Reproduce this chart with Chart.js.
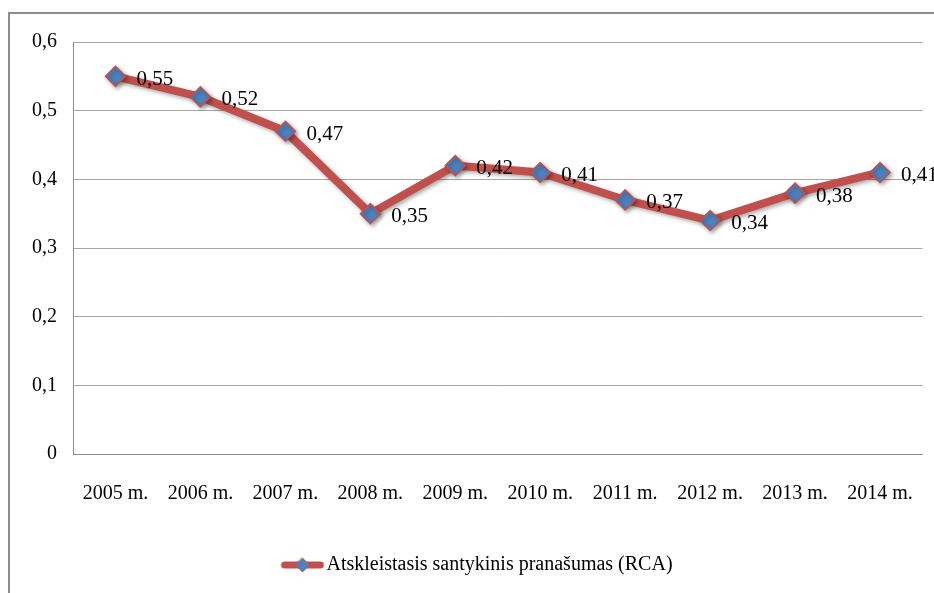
<!DOCTYPE html>
<html>
<head>
<meta charset="utf-8">
<script src="https://cdn.jsdelivr.net/npm/chart.js@4.4.1/dist/chart.umd.min.js"></script>
<style>
  html, body { margin: 0; padding: 0; background: #fff; }
  #wrap { width: 934px; height: 593px; position: relative; }
</style>
</head>
<body>
<div id="wrap"><canvas id="rcaChart" width="934" height="593"></canvas></div>
<script>
// duomenys
const years = ["2005 m.", "2006 m.", "2007 m.", "2008 m.", "2009 m.", "2010 m.", "2011 m.", "2012 m.", "2013 m.", "2014 m."];
const rcaValues = [0.55, 0.52, 0.47, 0.35, 0.42, 0.41, 0.37, 0.34, 0.38, 0.41];
const seriesName = "Atskleistasis santykinis pranašumas (RCA)";

const lineColor = "#c0504d";
const markerColor = "#4f81bd";
const fontFamily = "'Liberation Serif', 'Times New Roman', serif";

const fmt = (v) => (v === 0 ? "0" : v.toFixed(2).replace(".", ","));

// legendos simbolis: linija su rombu (kairė dalis tuščia - paslinkti į dešinę)
const legendIcon = document.createElement("canvas");
legendIcon.width = 80;
legendIcon.height = 20;
(function () {
    const c = legendIcon.getContext("2d");
    c.strokeStyle = lineColor;
    c.lineWidth = 7;
    c.lineCap = "round";
    c.beginPath();
    c.moveTo(40, 10);
    c.lineTo(76, 10);
    c.stroke();
    c.beginPath();
    c.moveTo(58, 3);
    c.lineTo(65, 10);
    c.lineTo(58, 17);
    c.lineTo(51, 10);
    c.closePath();
    c.fillStyle = markerColor;
    c.fill();
    c.lineWidth = 1;
    c.strokeStyle = lineColor;
    c.stroke();
})();

// rėmelis aplink diagramą
const framePlugin = {
    id: "frame",
    beforeDraw(chart) {
        const ctx = chart.ctx;
        ctx.save();
        ctx.fillStyle = "#fff";
        ctx.fillRect(0, 0, chart.width, chart.height);
        ctx.strokeStyle = "#8c8c8c";
        ctx.lineWidth = 2;
        ctx.beginPath();
        ctx.moveTo(9, chart.height);
        ctx.lineTo(9, 13);
        ctx.lineTo(chart.width, 13);
        ctx.stroke();
        ctx.restore();
    }
};

// šešėlis linijai
const shadowPlugin = {
    id: "shadow",
    beforeDatasetsDraw(chart) {
        const ctx = chart.ctx;
        ctx.save();
        ctx.shadowColor = "rgba(0,0,0,0.35)";
        ctx.shadowBlur = 4;
        ctx.shadowOffsetX = 2;
        ctx.shadowOffsetY = 2;
    },
    afterDatasetsDraw(chart) {
        chart.ctx.restore();
    }
};

// reikšmių žymos dešinėje nuo taškų
const valueLabels = {
    id: "valueLabels",
    afterDatasetsDraw(chart) {
        const ctx = chart.ctx;
        const meta = chart.getDatasetMeta(0);
        ctx.save();
        ctx.font = "21px " + fontFamily;
        ctx.fillStyle = "#000";
        ctx.textAlign = "left";
        ctx.textBaseline = "middle";
        meta.data.forEach((pt, i) => {
            ctx.fillText(fmt(rcaValues[i]), pt.x + 21, pt.y + 3);
        });
        ctx.restore();
    }
};

new Chart(document.getElementById("rcaChart").getContext("2d"), {
    type: "line",
    data: {
        labels: years,
        datasets: [{
            label: seriesName,
            data: rcaValues,
            borderColor: lineColor,
            borderWidth: 8,
            tension: 0,
            pointStyle: "rectRot",
            pointRadius: 10,
            pointBackgroundColor: markerColor,
            pointBorderColor: lineColor,
            pointBorderWidth: 1.5
        }]
    },
    options: {
        responsive: false,
        animation: false,
        layout: { padding: { top: 42, right: 9, bottom: 8, left: 0 } },
        plugins: {
            tooltip: { enabled: false },
            legend: {
                position: "bottom",
                labels: {
                    usePointStyle: true,
                    pointStyleWidth: 64,
                    color: "#000",
                    font: { family: fontFamily, size: 20 },
                    padding: 10,
                    generateLabels(chart) {
                        return [{
                            text: seriesName,
                            pointStyle: legendIcon,
                            fillStyle: markerColor,
                            strokeStyle: lineColor,
                            lineWidth: 0,
                            datasetIndex: 0,
                            fontColor: "#000"
                        }];
                    }
                }
            }
        },
        scales: {
            x: {
                offset: true,
                grid: { display: false, drawTicks: false },
                border: { display: true, color: "#8c8c8c", width: 1 },
                ticks: {
                    color: "#000",
                    padding: 28,
                    maxRotation: 0,
                    font: { family: fontFamily, size: 20 }
                },
                afterFit(scale) {
                    scale.height = 91;
                    scale.paddingLeft = 0;
                    scale.paddingRight = 0;
                }
            },
            y: {
                min: 0,
                max: 0.6,
                grid: { color: "#a6a6a6", lineWidth: 1, drawTicks: false },
                border: { display: true, color: "#8c8c8c", width: 1 },
                ticks: {
                    stepSize: 0.1,
                    color: "#000",
                    padding: 16,
                    font: { family: fontFamily, size: 20 },
                    callback: (v) => (v === 0 ? "0" : Number(v).toFixed(1).replace(".", ","))
                },
                afterFit(scale) { scale.width = 73; }
            }
        }
    },
    plugins: [framePlugin, shadowPlugin, valueLabels]
});
</script>
</body>
</html>
